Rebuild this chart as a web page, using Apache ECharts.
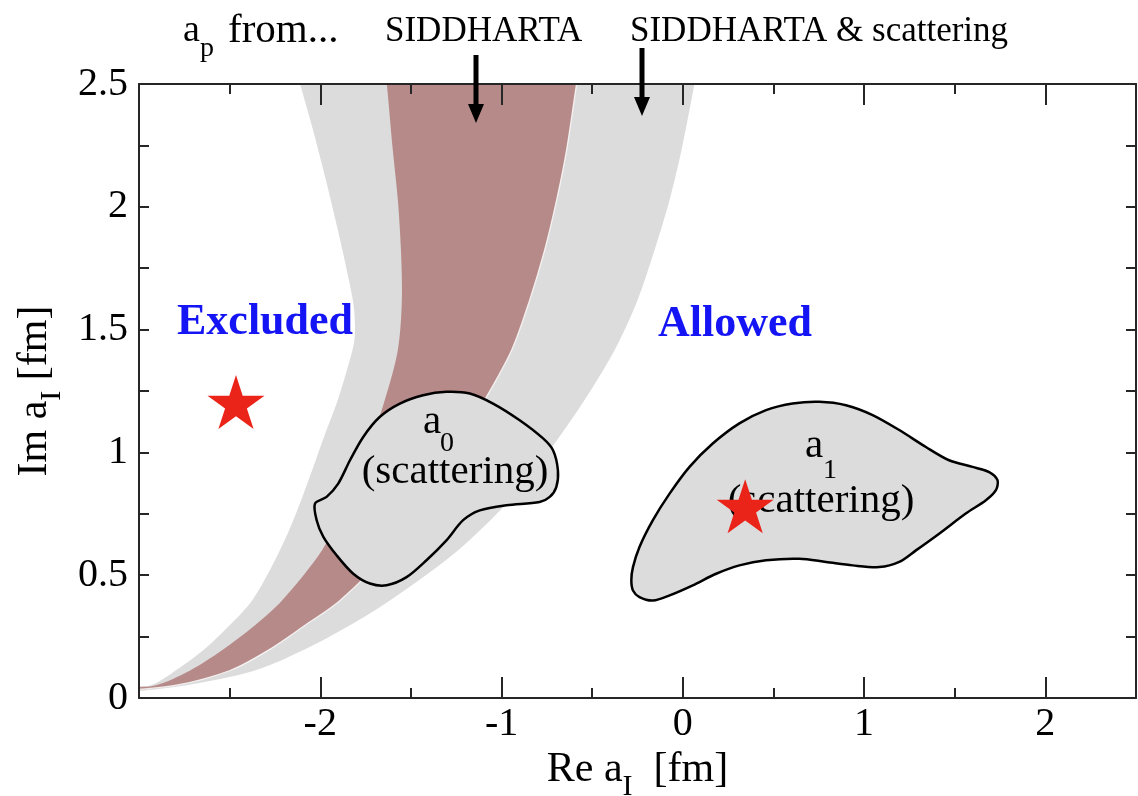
<!DOCTYPE html>
<html>
<head>
<meta charset="utf-8">
<script src="https://cdn.jsdelivr.net/npm/echarts@6/dist/echarts.min.js"></script>
<style>
  html, body { margin: 0; padding: 0; background: #ffffff; }
  #chart { width: 1138px; height: 796px; }
</style>
</head>
<body>
<div id="chart"></div>
<script>
// Band edges, each listed from the lower-left corner upward as [Re a, Im a] in fm.
// Outer grey band: a_p from SIDDHARTA & scattering.
const outerBandLeft = [
  [-3.10, 0.045], [-2.939, 0.051], [-2.817, 0.102], [-2.646, 0.194], [-2.486, 0.306],
  [-2.376, 0.397], [-2.271, 0.530], [-2.178, 0.673], [-2.112, 0.793], [-2.040, 0.938],
  [-1.980, 1.062], [-1.908, 1.203], [-1.853, 1.335], [-1.812, 1.457], [-1.813, 1.580],
  [-1.842, 1.702], [-1.903, 1.906], [-1.969, 2.109], [-2.040, 2.313], [-2.112, 2.501],
  [-2.167, 2.640]
];
const outerBandRight = [
  [-3.10, 0.025], [-2.746, 0.051], [-2.360, 0.112], [-2.095, 0.194], [-1.836, 0.296],
  [-1.616, 0.397], [-1.241, 0.601], [-0.955, 0.805], [-0.734, 1.009], [-0.542, 1.213],
  [-0.376, 1.417], [-0.250, 1.620], [-0.156, 1.824], [-0.073, 2.028], [-0.007, 2.232],
  [0.064, 2.501], [0.084, 2.600]
];
// Inner band: a_p from SIDDHARTA alone.
const innerBandLeft = [
  [-3.10, 0.042], [-2.911, 0.051], [-2.718, 0.112], [-2.542, 0.194], [-2.360, 0.296],
  [-2.211, 0.397], [-1.991, 0.601], [-1.847, 0.805], [-1.737, 1.009], [-1.644, 1.213],
  [-1.572, 1.417], [-1.550, 1.620], [-1.555, 1.824], [-1.572, 2.028], [-1.600, 2.232],
  [-1.633, 2.501], [-1.649, 2.600]
];
const innerBandRight = [
  [-3.10, 0.030], [-2.801, 0.051], [-2.498, 0.112], [-2.288, 0.194], [-2.084, 0.296],
  [-1.891, 0.397], [-1.616, 0.601], [-1.423, 0.805], [-1.258, 1.009], [-1.093, 1.213],
  [-0.944, 1.417], [-0.845, 1.620], [-0.762, 1.824], [-0.696, 2.028], [-0.641, 2.232],
  [-0.586, 2.501], [-0.564, 2.600]
];

// Closed contours of the scattering determinations.
const contourA0 = [
  [-2.029, 0.792], [-1.965, 0.819], [-1.901, 0.873], [-1.836, 0.968], [-1.763, 1.063],
  [-1.671, 1.145], [-1.561, 1.199], [-1.433, 1.233], [-1.304, 1.247], [-1.175, 1.240],
  [-1.047, 1.199], [-0.900, 1.131], [-0.771, 1.057], [-0.716, 1.009], [-0.689, 0.927],
  [-0.698, 0.859], [-0.734, 0.819], [-0.790, 0.798], [-0.973, 0.785], [-1.120, 0.764],
  [-1.212, 0.724], [-1.304, 0.642], [-1.414, 0.561], [-1.524, 0.492], [-1.634, 0.459],
  [-1.726, 0.466], [-1.818, 0.506], [-1.910, 0.581], [-1.983, 0.656], [-2.020, 0.724]
];
const contourA1 = [
  [-0.284, 0.479], [-0.275, 0.533], [-0.239, 0.615], [-0.165, 0.724], [-0.073, 0.832],
  [0.037, 0.941], [0.165, 1.036], [0.312, 1.118], [0.459, 1.172], [0.606, 1.199],
  [0.753, 1.206], [0.900, 1.192], [1.047, 1.152], [1.194, 1.091], [1.341, 1.022],
  [1.469, 0.968], [1.598, 0.941], [1.690, 0.920], [1.736, 0.887], [1.727, 0.846],
  [1.672, 0.805], [1.561, 0.751], [1.414, 0.669], [1.286, 0.601], [1.194, 0.554],
  [1.084, 0.533], [0.937, 0.540], [0.790, 0.554], [0.643, 0.567], [0.459, 0.561],
  [0.312, 0.540], [0.184, 0.506], [0.055, 0.459], [-0.073, 0.418], [-0.165, 0.397],
  [-0.239, 0.411], [-0.275, 0.438]
];

// Model points marked with stars.
const starPoints = [[-2.465, 1.205], [0.344, 0.781]];

// Labelled ticks.
const xTickValues = [-2, -1, 0, 1, 2];
const yTickValues = [0, 0.5, 1, 1.5, 2, 2.5];

const SERIF = "'Liberation Serif', 'Times New Roman', serif";
const AXIS_COLOR = '#262626';
const GREY = '#dcdcdc';
const BROWN = '#b68a88';

function findLabel(list, v) {
  for (const t of list) if (Math.abs(t - v) < 1e-6) return String(t);
  return '';
}

function polygonSeries(name, pts, fill, stroke, lineWidth, z) {
  return {
    type: 'custom', name: name, coordinateSystem: 'cartesian2d',
    xAxisIndex: 0, yAxisIndex: 0, clip: true, z: z, silent: true,
    data: pts,
    encode: { x: 0, y: 1 },
    renderItem: function (params, api) {
      if (params.dataIndex !== 0) return null;
      const points = pts.map(p => api.coord(p));
      return {
        type: 'polygon',
        shape: { points: points, smooth: 0.3 },
        style: { fill: fill, stroke: stroke || null, lineWidth: lineWidth || 0 }
      };
    }
  };
}

function polylineSeries(name, pts, stroke, lineWidth, z) {
  return {
    type: 'custom', name: name, coordinateSystem: 'cartesian2d',
    xAxisIndex: 0, yAxisIndex: 0, clip: true, z: z, silent: true,
    data: pts,
    encode: { x: 0, y: 1 },
    renderItem: function (params, api) {
      if (params.dataIndex !== 0) return null;
      return {
        type: 'polyline',
        shape: { points: pts.map(p => api.coord(p)), smooth: 0.3 },
        style: { fill: null, stroke: stroke, lineWidth: lineWidth }
      };
    }
  };
}

function bandPolygon(left, right) {
  return left.concat(right.slice().reverse());
}

const nameRich = {
  m: { fontFamily: SERIF, fontSize: 42, color: '#000', verticalAlign: 'top', lineHeight: 46 },
  s: { fontFamily: SERIF, fontSize: 30, color: '#000', verticalAlign: 'top', padding: [23, 0, 0, 0] }
};

function frameAxis(dim, position, interval, tickLen, lineShown, labels) {
  const ax = {
    type: 'value', gridIndex: 0, position: position,
    min: dim === 'x' ? -3 : 0, max: 2.5, interval: interval,
    splitLine: { show: false },
    axisLine: { show: lineShown, onZero: false, lineStyle: { color: AXIS_COLOR, width: 2 } },
    axisTick: { show: true, inside: true, length: tickLen, lineStyle: { color: AXIS_COLOR, width: 2 } },
    axisLabel: { show: false },
    z: 10
  };
  if (labels) {
    ax.axisLabel = {
      show: true, fontFamily: SERIF, fontSize: 40, color: '#000',
      margin: dim === 'x' ? 6 : 11,
      formatter: v => findLabel(labels, v)
    };
  }
  return ax;
}

const xAxes = [
  frameAxis('x', 'bottom', 1, 21, true, xTickValues),
  frameAxis('x', 'bottom', 0.5, 10, false, null),
  frameAxis('x', 'top', 1, 21, true, null),
  frameAxis('x', 'top', 0.5, 10, false, null)
];
Object.assign(xAxes[0], {
  name: '{m|Re a}{s|I}{m|  [fm]}', nameLocation: 'middle', nameGap: 46,
  nameTextStyle: { fontFamily: SERIF, fontSize: 42, color: '#000', rich: nameRich }
});

const yAxes = [
  frameAxis('y', 'left', 0.25, 10, true, yTickValues),
  frameAxis('y', 'right', 0.25, 10, true, null)
];
Object.assign(yAxes[0], {
  name: '{m|Im a}{s|I}{m| [fm]}', nameLocation: 'middle', nameGap: 71, nameRotate: 90,
  nameTextStyle: { fontFamily: SERIF, fontSize: 42, color: '#000', rich: nameRich }
});

function txt(x, y, text, size, opts) {
  opts = opts || {};
  return {
    type: 'text', x: x, y: y, z: opts.z || 4, silent: true,
    style: {
      text: text,
      font: (opts.bold ? 'bold ' : '') + size + 'px ' + SERIF,
      fill: opts.color || '#000',
      align: opts.align || 'left',
      verticalAlign: 'middle'
    }
  };
}

function arrow(x, yTop, yHeadBase, yTip) {
  return [
    { type: 'line', z: 20, silent: true, shape: { x1: x, y1: yTop, x2: x, y2: yHeadBase + 4 },
      style: { stroke: '#000', lineWidth: 5 } },
    { type: 'polygon', z: 20, silent: true,
      shape: { points: [[x - 8, yHeadBase], [x + 8, yHeadBase], [x, yTip]] },
      style: { fill: '#000' } }
  ];
}

const STAR_PATH = 'path://M50,0 L61.2,34.5 L97.6,34.5 L68.2,55.9 L79.4,90.5 L50,69.1 L20.6,90.5 L31.8,55.9 L2.4,34.5 L38.8,34.5 Z';

const chart = echarts.init(document.getElementById('chart'), null, { renderer: 'canvas' });
chart.setOption({
  animation: false,
  backgroundColor: '#ffffff',
  grid: { left: 139, right: 2, top: 84, bottom: 98, containLabel: false, outerBoundsMode: 'none' },
  xAxis: xAxes,
  yAxis: yAxes,
  series: [
    polygonSeries('SIDDHARTA & scattering', bandPolygon(outerBandLeft, outerBandRight), GREY, null, 0, 1),
    polygonSeries('SIDDHARTA', bandPolygon(innerBandLeft, innerBandRight), BROWN, null, 0, 2),
    polylineSeries('SIDDHARTA edge', innerBandRight, 'rgba(255,255,255,0.8)', 1.3, 2),
    polygonSeries('a0 (scattering)', contourA0, GREY, '#000', 2.5, 3),
    polygonSeries('a1 (scattering)', contourA1, GREY, '#000', 2.5, 3),
    {
      type: 'scatter', name: 'stars', xAxisIndex: 0, yAxisIndex: 0, z: 6, silent: true,
      symbol: STAR_PATH, symbolSize: [57, 54],
      itemStyle: { color: '#ea2419', opacity: 1 },
      data: starPoints
    }
  ],
  graphic: [
    txt(183, 31, 'a', 38, { z: 20 }),
    txt(200, 48.5, 'p', 28, { z: 20 }),
    txt(228, 31, 'from...', 41, { z: 20 }),
    txt(385, 31.5, 'SIDDHARTA', 35, { z: 20 }),
    txt(630, 31.5, 'SIDDHARTA & scattering', 35, { z: 20 }),
    ...arrow(476, 55, 104, 123),
    ...arrow(642, 48, 97, 116),
    txt(177, 322.5, 'Excluded', 44, { bold: true, color: '#1414f5' }),
    txt(658, 324.5, 'Allowed', 44, { bold: true, color: '#1414f5' }),
    txt(423, 422, 'a', 41),
    txt(440, 443.5, '0', 28),
    txt(455, 472.5, '(scattering)', 41, { align: 'center' }),
    txt(805, 446, 'a', 41),
    txt(823, 471, '1', 28),
    txt(821, 501, '(scattering)', 41, { align: 'center' })
  ]
});
</script>
</body>
</html>
